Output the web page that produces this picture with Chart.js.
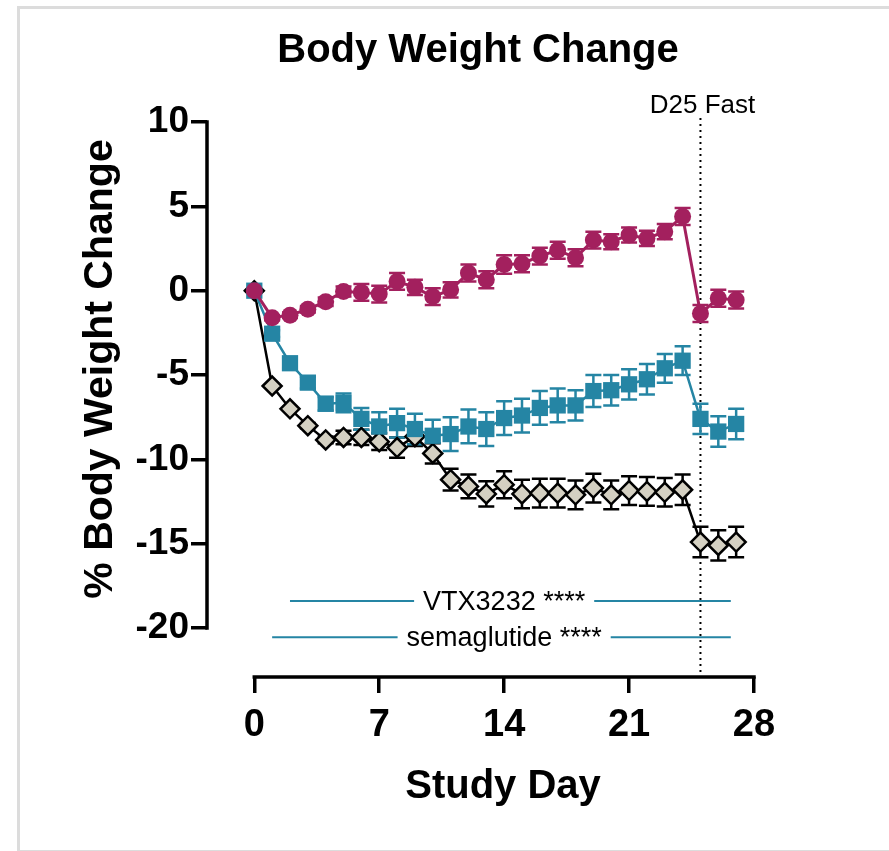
<!DOCTYPE html>
<html>
<head>
<meta charset="utf-8">
<script src="https://cdn.jsdelivr.net/npm/chart.js@4.4.0/dist/chart.umd.min.js"></script>
<style>
  body { margin: 0; background: #fff; overflow: hidden; }
  #card { position: absolute; left: 17px; top: 6px; width: 900px; height: 841px; border: 3px solid #dcdcdc; border-right: none; }
  #wrap { position: absolute; left: 0; top: 0; width: 889px; height: 851px; }
</style>
</head>
<body>
<div id="card"></div>
<div id="wrap"><canvas id="bw" width="889" height="851"></canvas></div>
<script>
// study days
var days = [0,1,2,3,4,5,6,7,8,9,10,11,12,13,14,15,16,17,18,19,20,21,22,23,24,25,26,27];

// % body weight change, mean and SEM per group
var vehicle = [0,-1.6,-1.45,-1.1,-0.65,-0.05,-0.1,-0.2,0.55,0.2,-0.35,0.05,1.05,0.65,1.55,1.6,2.05,2.4,1.95,3.0,2.9,3.3,3.1,3.5,4.4,-1.35,-0.45,-0.55];
var vehicleSem = [0,0.15,0.15,0.2,0.25,0.3,0.5,0.5,0.5,0.45,0.5,0.45,0.5,0.5,0.55,0.5,0.5,0.5,0.5,0.5,0.45,0.45,0.45,0.45,0.5,0.5,0.5,0.5];

var vtx = [0,-2.55,-4.3,-5.45,-6.7,-6.65,-7.6,-8.05,-7.85,-8.2,-8.6,-8.5,-8.05,-8.2,-7.55,-7.4,-6.95,-6.8,-6.8,-5.95,-5.9,-5.55,-5.25,-4.6,-4.15,-7.6,-8.35,-7.9];
var vtxSem = [0,0.2,0.3,0.35,0.4,0.55,0.65,0.85,0.85,0.9,0.95,1.0,1.0,1.0,1.0,1.0,1.0,1.0,0.9,0.95,0.9,0.9,0.9,0.85,0.85,0.9,0.9,0.9];

var sema = [0,-5.65,-7.0,-8.0,-8.85,-8.7,-8.7,-8.95,-9.3,-8.65,-9.65,-11.2,-11.6,-12.05,-11.5,-12.05,-12.0,-12.0,-12.1,-11.7,-12.1,-11.85,-11.9,-11.95,-11.8,-14.9,-15.1,-14.9];
var semaSem = [0,0.1,0.1,0.15,0.2,0.4,0.45,0.5,0.6,0.55,0.6,0.65,0.7,0.75,0.8,0.85,0.85,0.85,0.85,0.85,0.85,0.85,0.85,0.85,0.9,0.9,0.9,0.9];

var xTicks = [0, 7, 14, 21, 28];
var yTicks = [-20, -15, -10, -5, 0, 5, 10];

// fasting day marker
var fastDay = 25;
var fastLabel = 'D25 Fast';

// significance bars: label, start day, end day, y value
var sigLabels = ['VTX3232 ****', 'semaglutide ****'];
var sigFrom = [2, 1];
var sigTo = [26.7, 26.7];
var sigY = [-18.4, -20.55];

var FONT = "'Liberation Sans', Arial, sans-serif";
var magenta = '#a3205e';
var teal = '#2585a4';

function pts(ys) {
  return days.map(function (d, i) { return { x: d, y: ys[i] }; });
}

var sems = [vehicleSem, vtxSem, semaSem];

var errorBars = {
  id: 'errorBars',
  beforeDatasetsDraw: function (chart) {
    var ctx = chart.ctx, ys = chart.scales.y;
    for (var i = chart.data.datasets.length - 1; i >= 0; i--) {
      var ds = chart.data.datasets[i];
      var meta = chart.getDatasetMeta(i);
      ctx.save();
      ctx.strokeStyle = ds.errColor;
      ctx.lineWidth = 2.5;
      meta.data.forEach(function (p, j) {
        var s = sems[i][j];
        if (!s) return;
        var v = ds.data[j].y;
        var top = ys.getPixelForValue(v + s), bot = ys.getPixelForValue(v - s);
        ctx.beginPath();
        ctx.moveTo(p.x, top); ctx.lineTo(p.x, bot);
        ctx.moveTo(p.x - 8, top); ctx.lineTo(p.x + 8, top);
        ctx.moveTo(p.x - 8, bot); ctx.lineTo(p.x + 8, bot);
        ctx.stroke();
      });
      ctx.restore();
    }
  }
};

var decor = {
  id: 'decor',
  beforeDatasetsDraw: function (chart) {
    var ctx = chart.ctx, xs = chart.scales.x, ys = chart.scales.y;
    var area = chart.chartArea;
    ctx.save();
    // axes drawn only over the tick range
    ctx.strokeStyle = '#000';
    ctx.lineWidth = 3.5;
    ctx.lineCap = 'square';
    ctx.beginPath();
    ctx.moveTo(area.left, ys.getPixelForValue(10));
    ctx.lineTo(area.left, ys.getPixelForValue(-20));
    ctx.moveTo(xs.getPixelForValue(0), area.bottom);
    ctx.lineTo(xs.getPixelForValue(28), area.bottom);
    ctx.stroke();

    // dotted fasting line
    var fx = xs.getPixelForValue(fastDay);
    ctx.lineCap = 'butt';
    ctx.lineWidth = 2;
    ctx.setLineDash([2, 4]);
    ctx.beginPath();
    ctx.moveTo(fx, area.top - 4);
    ctx.lineTo(fx, area.bottom - 5);
    ctx.stroke();
    ctx.setLineDash([]);

    ctx.fillStyle = '#000';
    ctx.font = '26px ' + FONT;
    ctx.textAlign = 'center';
    ctx.textBaseline = 'alphabetic';
    ctx.fillText(fastLabel, fx + 2, 113);

    // significance bars
    ctx.font = '27px ' + FONT;
    ctx.textBaseline = 'middle';
    for (var i = 0; i < sigLabels.length; i++) {
      var y = ys.getPixelForValue(sigY[i]);
      var cx = xs.getPixelForValue(14);
      var half = ctx.measureText(sigLabels[i]).width / 2 + 9;
      ctx.strokeStyle = teal;
      ctx.lineWidth = 2;
      ctx.beginPath();
      ctx.moveTo(xs.getPixelForValue(sigFrom[i]), y);
      ctx.lineTo(cx - half, y);
      ctx.moveTo(cx + half, y);
      ctx.lineTo(xs.getPixelForValue(sigTo[i]), y);
      ctx.stroke();
      ctx.fillText(sigLabels[i], cx, y + 1);
    }

    // titles
    ctx.font = 'bold 40px ' + FONT;
    ctx.textBaseline = 'alphabetic';
    ctx.fillText('Body Weight Change', 478, 62);
    ctx.font = 'bold 40px ' + FONT;
    ctx.fillText('Study Day', 503, 798);
    ctx.save();
    ctx.translate(101, 369);
    ctx.rotate(-Math.PI / 2);
    ctx.font = 'bold 41px ' + FONT;
    ctx.textBaseline = 'middle';
    ctx.fillText('% Body Weight Change', 0, 0);
    ctx.restore();
    ctx.restore();
  }
};

new Chart(document.getElementById('bw').getContext('2d'), {
  type: 'line',
  data: {
    datasets: [
      {
        label: 'Vehicle',
        data: pts(vehicle),
        borderColor: magenta,
        backgroundColor: magenta,
        errColor: magenta,
        borderWidth: 3,
        pointStyle: 'circle',
        pointRadius: 8.5,
        pointBorderWidth: 0,
        pointBackgroundColor: magenta
      },
      {
        label: 'VTX3232',
        data: pts(vtx),
        borderColor: teal,
        backgroundColor: teal,
        errColor: teal,
        borderWidth: 2.5,
        pointStyle: 'rect',
        pointRadius: 11.5,
        pointBorderWidth: 0,
        pointBackgroundColor: teal
      },
      {
        label: 'semaglutide',
        data: pts(sema),
        borderColor: '#000',
        backgroundColor: '#d4d0c2',
        errColor: '#000',
        borderWidth: 2.5,
        pointStyle: 'rectRot',
        pointRadius: 9.5,
        pointBorderWidth: 2.5,
        pointBorderColor: '#000',
        pointBackgroundColor: '#d4d0c2'
      }
    ]
  },
  options: {
    responsive: false,
    devicePixelRatio: 1,
    animation: false,
    clip: false,
    layout: { padding: { top: 122, right: 135, left: 0, bottom: 0 } },
    plugins: {
      legend: { display: false },
      title: { display: false },
      tooltip: { enabled: false }
    },
    scales: {
      x: {
        type: 'linear',
        min: -2.65,
        max: 28,
        afterBuildTicks: function (s) { s.ticks = xTicks.map(function (v) { return { value: v }; }); },
        afterFit: function (s) { s.height = 174; },
        border: { display: false },
        grid: { drawOnChartArea: false, color: '#000', lineWidth: 3.5, tickLength: 16 },
        ticks: { color: '#000', padding: 10, font: { family: FONT, size: 38, weight: 'bold' } }
      },
      y: {
        min: -22.9,
        max: 10,
        afterBuildTicks: function (s) { s.ticks = yTicks.map(function (v) { return { value: v }; }); },
        afterFit: function (s) { s.width = 207; },
        border: { display: false },
        grid: { drawOnChartArea: false, color: '#000', lineWidth: 3.5, tickLength: 16 },
        ticks: { color: '#000', padding: 2, font: { family: FONT, size: 37, weight: 'bold' } }
      }
    }
  },
  plugins: [decor, errorBars]
});
</script>
</body>
</html>
